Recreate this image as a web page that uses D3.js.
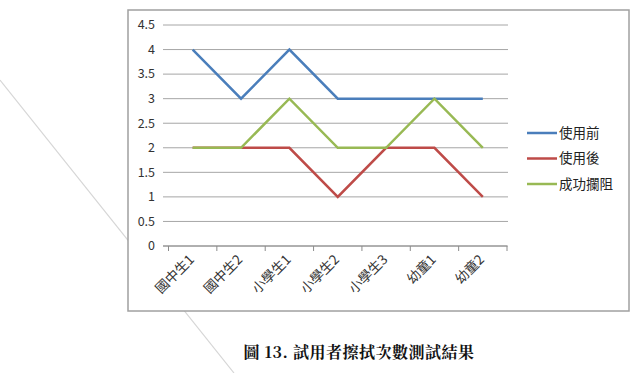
<!DOCTYPE html>
<html><head><meta charset="utf-8">
<script src="https://cdn.jsdelivr.net/npm/d3@7"></script>
<style>body{margin:0;background:#fff}svg{display:block}</style>
</head><body>
<svg id="c" width="643" height="373"></svg>
<script>
const categories = ["國中生1","國中生2","小學生1","小學生2","小學生3","幼童1","幼童2"];
const seriesNames = ["使用前","使用後","成功攔阻"];
const seriesColors = ["#4a7ebb","#be4b48","#98b954"];
const before = [4,3,4,3,3,3,3];
const after = [2,2,2,1,2,2,1];
const blocked = [2,2,3,2,2,3,2];
const yTicks = [0,0.5,1,1.5,2,2.5,3,3.5,4,4.5];
const caption = "圖 13. 試用者擦拭次數測試結果";

const series = [before, after, blocked];
const svg = d3.select("#c");
const font = "'Noto Sans CJK TC','Noto Sans',sans-serif";

// background diagonal
svg.append("line").attr("x1",0).attr("y1",80).attr("x2",234).attr("y2",373)
  .attr("stroke","#d6d6d6").attr("stroke-width",1.2);

// frame
svg.append("rect").attr("x",128).attr("y",10).attr("width",501).attr("height",301)
  .attr("fill","#fff").attr("stroke","#a0a0a0").attr("stroke-width",1.5);

const x = d3.scaleBand().domain(categories).range([168.5,507]);
const y = d3.scaleLinear().domain([0,4.5]).range([246,25]);

// gridlines
svg.append("g").selectAll("line").data(yTicks).join("line")
  .attr("x1",163).attr("x2",508).attr("y1",d=>y(d)).attr("y2",d=>y(d))
  .attr("stroke","#a6a6a6").attr("stroke-width",1);

// y labels
svg.append("g").selectAll("text").data(yTicks).join("text")
  .attr("x",155).attr("y",d=>y(d)).attr("dy","0.35em").attr("text-anchor","end")
  .attr("font-family",font).attr("font-size",12.5).attr("fill","#333")
  .text(d=>d);

// x axis
const xa = svg.append("g").attr("transform","translate(0,246)")
  .call(d3.axisBottom(x).tickSize(5).tickFormat(""));
xa.select(".domain").attr("stroke","#8c8c8c").attr("d","M163,0H507");
xa.selectAll(".tick").remove();
const bounds = d3.range(categories.length+1).map(i=>x.range()[0]+i*x.step());
xa.selectAll("line.b").data(bounds).join("line").attr("class","b")
  .attr("x1",d=>d).attr("x2",d=>d).attr("y1",0).attr("y2",5).attr("stroke","#8c8c8c");

svg.append("g").selectAll("text").data(categories).join("text")
  .attr("transform",d=>`translate(${x(d)+x.bandwidth()/2-1},${257}) rotate(-45)`)
  .attr("text-anchor","end").attr("dy","0.35em")
  .attr("font-family",font).attr("font-size",13.5).attr("fill","#333")
  .text(d=>d);

// lines
const line = d3.line().x((d,i)=>x(categories[i])+x.bandwidth()/2).y(d=>y(d));
series.forEach((s,k)=>{
  svg.append("path").datum(s).attr("d",line).attr("fill","none")
    .attr("stroke",seriesColors[k]).attr("stroke-width",2.5).attr("stroke-linejoin","miter");
});

// legend
const lg = svg.append("g").selectAll("g").data(seriesNames).join("g")
  .attr("transform",(d,i)=>`translate(527,${133+i*25.5})`);
lg.append("line").attr("x1",0).attr("x2",30).attr("stroke",(d,i)=>seriesColors[i]).attr("stroke-width",2.5);
lg.append("text").attr("x",32).attr("dy","0.35em").attr("font-family",font)
  .attr("font-size",13.5).attr("fill","#222").text(d=>d);

// caption
svg.append("text").attr("x",359).attr("y",352).attr("dy","0.35em").attr("text-anchor","middle")
  .attr("font-family","'Noto Serif CJK TC','Noto Sans CJK TC',serif").attr("font-weight","bold")
  .attr("font-size",16).attr("letter-spacing",0.5).attr("fill","#111").text(caption);
</script>
</body></html>
